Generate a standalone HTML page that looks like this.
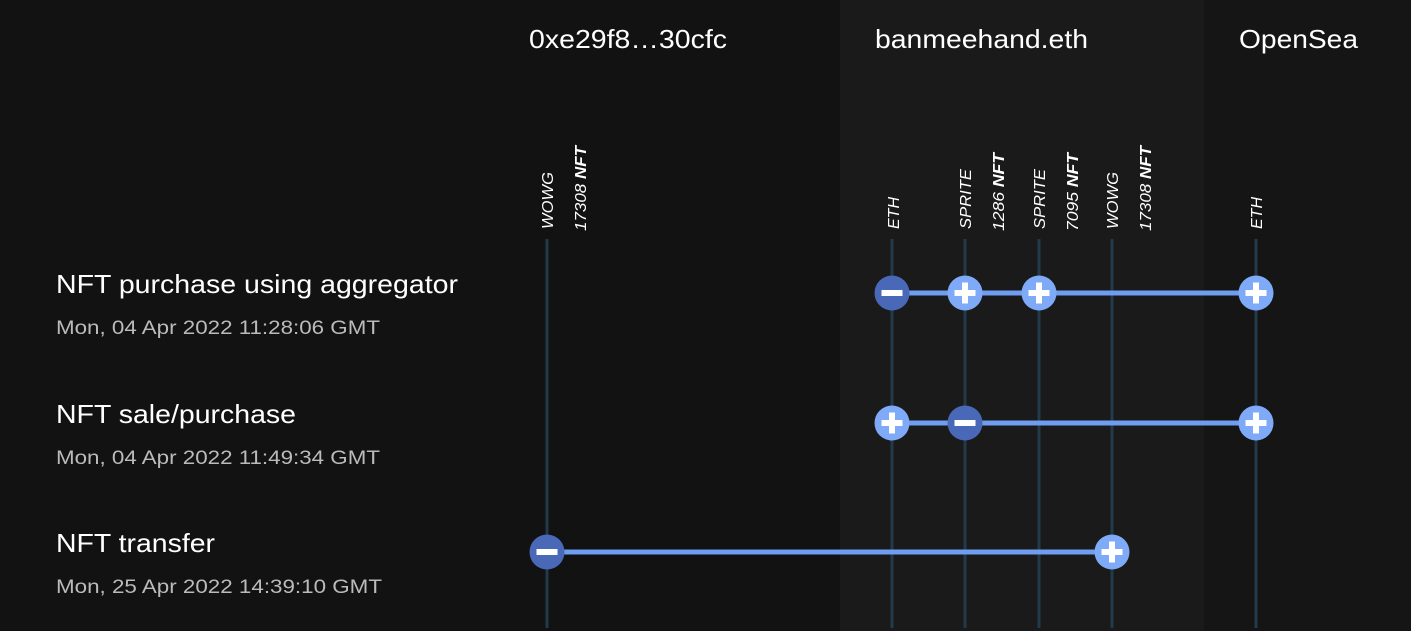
<!DOCTYPE html>
<html><head><meta charset="utf-8"><style>
html,body{margin:0;padding:0;background:#121212;}
svg{display:block}
</style></head><body>
<svg width="1411" height="631" viewBox="0 0 1411 631" xmlns="http://www.w3.org/2000/svg" font-family="Liberation Sans, sans-serif">
<rect x="0" y="0" width="840" height="631" fill="#121212"/>
<rect x="840" y="0" width="364" height="631" fill="#1a1a1a"/>
<rect x="1204" y="0" width="207" height="631" fill="#151515"/>
<g fill="#fff" font-size="26" lengthAdjust="spacingAndGlyphs">
<text x="529" y="48" textLength="198" lengthAdjust="spacingAndGlyphs">0xe29f8…30cfc</text>
<text x="875" y="48" textLength="213" lengthAdjust="spacingAndGlyphs">banmeehand.eth</text>
<text x="1239" y="48" textLength="119" lengthAdjust="spacingAndGlyphs">OpenSea</text>
</g>
<g fill="#fff" font-size="26">
<text x="56" y="293" textLength="402" lengthAdjust="spacingAndGlyphs">NFT purchase using aggregator</text>
<text x="56" y="423" textLength="240" lengthAdjust="spacingAndGlyphs">NFT sale/purchase</text>
<text x="56" y="552" textLength="159" lengthAdjust="spacingAndGlyphs">NFT transfer</text>
</g>
<g fill="#bbb" font-size="19">
<text x="56" y="334" textLength="324" lengthAdjust="spacingAndGlyphs">Mon, 04 Apr 2022 11:28:06 GMT</text>
<text x="56" y="464" textLength="324" lengthAdjust="spacingAndGlyphs">Mon, 04 Apr 2022 11:49:34 GMT</text>
<text x="56" y="593" textLength="326" lengthAdjust="spacingAndGlyphs">Mon, 25 Apr 2022 14:39:10 GMT</text>
</g>
<g stroke="#233a4a" stroke-width="3">
<line x1="547" y1="239" x2="547" y2="628"/>
<line x1="892" y1="239" x2="892" y2="628"/>
<line x1="965" y1="239" x2="965" y2="628"/>
<line x1="1039" y1="239" x2="1039" y2="628"/>
<line x1="1112" y1="239" x2="1112" y2="628"/>
<line x1="1256" y1="239" x2="1256" y2="628"/>
</g>
<g fill="#fff" font-size="16" font-style="italic">
<text transform="translate(553,229) rotate(-90)" textLength="57" lengthAdjust="spacingAndGlyphs">WOWG</text>
<text transform="translate(586,231) rotate(-90)" textLength="85" lengthAdjust="spacingAndGlyphs">17308 <tspan font-weight="bold">NFT</tspan></text>
<text transform="translate(899,229) rotate(-90)" textLength="32" lengthAdjust="spacingAndGlyphs">ETH</text>
<text transform="translate(971,229) rotate(-90)" textLength="60" lengthAdjust="spacingAndGlyphs">SPRITE</text>
<text transform="translate(1004,231) rotate(-90)" textLength="78" lengthAdjust="spacingAndGlyphs">1286 <tspan font-weight="bold">NFT</tspan></text>
<text transform="translate(1045,229) rotate(-90)" textLength="60" lengthAdjust="spacingAndGlyphs">SPRITE</text>
<text transform="translate(1078,231) rotate(-90)" textLength="78" lengthAdjust="spacingAndGlyphs">7095 <tspan font-weight="bold">NFT</tspan></text>
<text transform="translate(1118,229) rotate(-90)" textLength="57" lengthAdjust="spacingAndGlyphs">WOWG</text>
<text transform="translate(1151,231) rotate(-90)" textLength="85" lengthAdjust="spacingAndGlyphs">17308 <tspan font-weight="bold">NFT</tspan></text>
<text transform="translate(1262,229) rotate(-90)" textLength="32" lengthAdjust="spacingAndGlyphs">ETH</text>
</g>
<g stroke="#6f9ef0" stroke-width="5">
<line x1="892" y1="293" x2="1256" y2="293"/>
<line x1="892" y1="423" x2="1256" y2="423"/>
<line x1="547" y1="552" x2="1112" y2="552"/>
</g>
<defs>
<g id="p"><circle r="17.5" fill="#7faaf8"/><rect x="-10.5" y="-3" width="21" height="6" fill="#fff"/><rect x="-3" y="-10.5" width="6" height="21" fill="#fff"/></g>
<g id="m"><circle r="17.5" fill="#4a68b8"/><rect x="-10.5" y="-3" width="21" height="6" fill="#fff"/></g>
</defs>
<use href="#m" x="892" y="293"/>
<use href="#p" x="965" y="293"/>
<use href="#p" x="1039" y="293"/>
<use href="#p" x="1256" y="293"/>
<use href="#p" x="892" y="423"/>
<use href="#m" x="965" y="423"/>
<use href="#p" x="1256" y="423"/>
<use href="#m" x="547" y="552"/>
<use href="#p" x="1112" y="552"/>
</svg>
</body></html>
